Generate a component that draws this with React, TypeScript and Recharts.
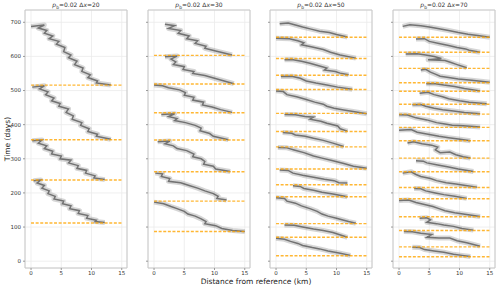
import { LineChart, Line, XAxis, YAxis, CartesianGrid, ReferenceArea } from 'recharts';

// Tick values
const xTicks = [0, 5, 10, 15];
const yTicks = [0, 100, 200, 300, 400, 500, 600, 700];

// Panel spacings (Δx)
const spacings = [20, 30, 50, 70];

// Gray bands: each band is a list of [distance km, time days]
const p1Bands: number[][][] = [
  [[0.0,688],[2.2,692],[1.2,683],[2.6,676],[2.2,668],[3.6,660],[3.0,652],[4.6,644],[4.2,636],[5.6,626],[5.4,614],[6.6,604],[6.2,596],[7.6,586],[7.2,576],[8.6,566],[8.4,556],[9.8,546],[9.4,538],[11.0,528],[10.8,522],[13.2,516]],
  [[0.2,510],[2.2,514],[1.4,505],[2.8,496],[2.4,488],[3.8,478],[3.4,470],[4.8,462],[4.6,454],[6.2,446],[5.8,436],[7.0,426],[6.8,416],[8.4,406],[8.2,398],[9.6,388],[9.4,380],[11.0,372],[10.8,366],[13.2,357]],
  [[0.2,353],[1.8,355],[1.2,346],[2.6,338],[2.2,330],[3.6,322],[3.4,314],[5.0,308],[4.8,300],[6.6,296],[6.2,288],[7.8,280],[7.6,272],[9.2,266],[9.0,258],[10.6,250],[10.4,244],[12.2,239]],
  [[0.4,236],[1.6,238],[1.0,229],[2.2,222],[1.8,214],[3.0,206],[2.8,198],[4.0,190],[3.8,182],[5.4,176],[5.2,168],[6.6,162],[6.4,154],[8.0,148],[7.8,140],[9.4,134],[9.2,126],[10.8,120],[10.6,116],[12.2,113]],
];

const p2Bands: number[][][] = [
  [[1.8,694],[3.4,690],[2.4,682],[4.4,676],[4.0,668],[5.8,660],[5.4,652],[7.2,646],[6.8,638],[8.6,630],[8.4,624],[10.2,616],[12.9,604]],
  [[1.8,599],[3.8,601],[2.8,592],[3.6,584],[3.2,576],[5.0,570],[4.8,562],[6.6,556],[6.4,550],[8.4,544],[10.0,536],[11.6,528],[13.2,520]],
  [[0.0,516],[1.4,514],[2.4,508],[4.2,502],[5.2,494],[5.0,486],[6.6,480],[6.4,472],[8.2,466],[8.0,458],[9.6,452],[11.0,444],[12.9,436]],
  [[1.2,430],[3.4,432],[2.4,424],[3.8,418],[3.4,412],[5.2,406],[6.8,398],[7.8,390],[7.6,382],[9.2,374],[9.8,366],[12.3,356]],
  [[0.6,350],[2.6,352],[1.8,344],[3.2,338],[3.8,330],[5.4,324],[6.6,314],[6.4,306],[7.8,300],[8.4,292],[8.2,284],[9.8,278],[10.2,270],[12.6,263]],
  [[0.2,258],[1.4,256],[1.2,248],[2.6,242],[2.4,234],[4.4,230],[5.8,222],[7.2,214],[8.4,206],[9.8,198],[10.6,190],[10.4,184],[12.0,179]],
  [[0.0,173],[1.6,168],[2.8,160],[3.8,154],[5.0,146],[5.6,138],[6.8,132],[7.8,124],[8.6,116],[8.4,110],[10.2,104],[11.2,96],[13.0,90],[15.0,87]],
];

const p3Bands: number[][][] = [
  [[0.6,696],[2.0,698],[3.2,692],[4.4,686],[5.8,680],[7.2,674],[8.8,670],[10.0,664],[11.8,657]],
  [[0.0,653],[2.2,652],[3.6,646],[4.6,640],[4.2,634],[5.8,628],[7.8,620],[9.0,612],[10.6,604],[13.2,595]],
  [[1.4,590],[2.6,591],[4.2,586],[5.6,580],[7.2,572],[8.4,566],[8.0,560],[9.8,556],[10.6,551],[12.0,546]],
  [[0.8,541],[2.6,542],[4.0,536],[5.0,528],[6.6,522],[8.4,516],[10.2,510],[12.6,504]],
  [[0.0,499],[1.2,497],[1.8,488],[3.4,482],[5.0,474],[6.4,466],[7.8,460],[8.4,454],[9.6,448],[11.2,443],[13.0,438],[15.0,432]],
  [[1.4,430],[3.2,429],[4.8,424],[6.2,422],[5.6,416],[7.4,410],[8.4,404],[10.2,396],[10.6,388],[11.8,381]],
  [[1.1,377],[2.6,375],[3.2,370],[4.8,366],[6.2,360],[7.8,354],[9.4,346],[11.2,336]],
  [[0.3,333],[1.8,332],[3.0,326],[4.6,318],[6.2,308],[7.6,302],[9.4,294],[11.2,286],[12.8,278],[15.0,272]],
  [[0.6,267],[2.0,266],[2.8,258],[4.4,252],[6.2,246],[8.0,240],[9.6,236],[10.4,230],[11.8,229]],
  [[2.8,221],[4.0,219],[4.6,213],[6.2,208],[7.6,202],[9.4,197],[11.8,189]],
  [[0.0,186],[1.4,184],[1.8,176],[3.2,170],[4.2,162],[5.6,154],[6.8,146],[7.6,138],[8.6,132],[10.0,126],[11.2,120],[12.0,116],[13.2,111]],
  [[1.4,106],[3.0,105],[4.4,100],[6.2,94],[7.8,90],[9.4,84],[10.4,78],[11.8,70]],
  [[0.0,67],[1.4,64],[2.4,58],[3.6,52],[4.4,46],[6.0,40],[7.2,36],[8.6,30],[10.4,24],[12.3,17]],
];

const p4Bands: number[][][] = [
  [[0.6,688],[1.8,693],[3.6,690],[5.0,686],[6.4,682],[8.2,676],[9.8,670],[11.4,665],[13.0,661],[15.0,656]],
  [[2.8,651],[4.2,652],[5.0,644],[6.6,638],[8.2,632],[9.6,626],[11.0,622],[11.6,618],[13.4,612]],
  [[1.1,607],[3.0,608],[4.4,604],[5.8,600],[7.0,594],[4.8,590],[7.6,588],[8.6,582],[9.6,576],[11.2,567]],
  [[3.6,560],[4.4,562],[5.2,554],[6.0,548],[6.8,542],[8.2,538],[9.8,534],[12.0,530],[15.0,524]],
  [[4.5,520],[6.0,520],[7.4,516],[9.2,512],[10.8,506],[13.4,499]],
  [[3.4,492],[4.8,495],[5.8,488],[7.2,482],[8.2,476],[10.0,470],[11.6,466],[14.5,461]],
  [[2.2,458],[3.6,459],[4.4,454],[5.8,448],[7.2,444],[9.0,440],[10.8,436],[13.4,432]],
  [[0.0,429],[1.4,428],[2.8,420],[4.6,414],[6.2,406],[7.6,402],[8.8,398],[10.6,397],[13.4,393]],
  [[0.0,384],[2.0,386],[3.0,378],[4.8,372],[6.6,366],[8.2,362],[9.8,358],[11.8,353]],
  [[1.4,346],[2.4,350],[3.8,344],[5.4,340],[6.4,334],[6.0,326],[6.8,318],[8.4,320],[9.4,312],[10.6,306],[11.8,302]],
  [[2.8,294],[4.0,293],[4.6,288],[6.4,282],[8.2,276],[9.8,270],[12.3,263]],
  [[0.6,258],[2.0,262],[2.8,254],[3.6,248],[5.2,242],[6.2,236],[7.8,230],[9.4,226],[11.0,222],[12.9,217]],
  [[2.5,213],[3.6,212],[4.4,206],[6.0,200],[7.4,195],[9.2,190],[11.2,184]],
  [[0.0,178],[1.6,179],[2.8,172],[4.2,166],[5.6,160],[6.6,154],[7.6,148],[9.2,142],[10.6,138],[13.4,131]],
  [[3.4,126],[4.6,127],[5.2,121],[4.6,114],[6.2,110],[7.4,106],[9.0,102],[10.4,96],[12.3,91]],
  [[0.8,87],[2.2,86],[3.6,82],[5.4,78],[4.6,70],[6.6,68],[8.4,68],[9.6,60],[11.2,54],[13.4,44]],
  [[2.2,41],[3.4,40],[4.2,34],[5.8,30],[7.4,26],[9.0,20],[10.4,17],[11.8,14]],
];

// Orange dashed reset times (days)
const p1Resets = [112, 238, 356, 516];
const p2Resets = [87, 176, 262, 355, 435, 519, 603];
const p3Resets = [16, 70, 110, 189, 224, 270, 335, 380, 433, 503, 545, 594, 656];
const p4Resets = [13, 42, 90, 130, 183, 216, 262, 302, 353, 392, 431, 460, 498, 523, 565, 612, 656];

const X_DOMAIN = [-1, 15.87];
const Y_DOMAIN = [-20, 736];
const PLOT_W = 102;
const Y_W = 22;

interface PanelProps {
  left: number;
  dx: number;
  bands: number[][][];
  resets: number[];
  showYLabels: boolean;
}

function Panel({ left, dx, bands, resets, showYLabels }: PanelProps) {
  const tickStyle = { fontSize: 5.5, fill: '#333' };
  return (
    <>
      <div
        style={{
          position: 'absolute',
          left,
          width: PLOT_W,
          top: 1,
          textAlign: 'center',
          fontSize: 6,
          color: '#333',
          lineHeight: '8px',
          whiteSpace: 'nowrap',
        }}
      >
        <i>p</i>
        <span style={{ fontSize: 4.5, position: 'relative', top: 1.5 }}>b</span>=0.02 Δ<i>x</i>={dx}
      </div>
      <div style={{ position: 'absolute', left: left - Y_W, top: 0 }}>
        <LineChart width={Y_W + PLOT_W + 2} height={290} margin={{ top: 10, right: 2, bottom: 8, left: 0 }}>
          <CartesianGrid stroke="#ebebeb" strokeWidth={0.8} />
          <XAxis
            type="number"
            dataKey="x"
            domain={X_DOMAIN}
            ticks={xTicks}
            height={14}
            tickSize={2}
            tickMargin={1}
            axisLine={false}
            tickLine={{ stroke: '#999' }}
            tick={tickStyle}
            allowDataOverflow
          />
          <YAxis
            type="number"
            domain={Y_DOMAIN}
            ticks={yTicks}
            width={Y_W}
            tickSize={2}
            tickMargin={2}
            axisLine={false}
            tickLine={{ stroke: '#999' }}
            tick={tickStyle}
            tickFormatter={(v) => (showYLabels ? String(v) : '')}
            allowDataOverflow
          />
          <ReferenceArea
            x1={X_DOMAIN[0]}
            x2={X_DOMAIN[1]}
            y1={Y_DOMAIN[0]}
            y2={Y_DOMAIN[1]}
            fill="none"
            stroke="#c8c8c8"
            strokeWidth={1}
          />
          {/* soft spread around each band */}
          {bands.map((b, i) => (
            <Line
              key={`h${i}`}
              data={b.map(([x, t]) => ({ x, t }))}
              dataKey="t"
              type="linear"
              stroke="#8a8a8a"
              strokeOpacity={0.35}
              strokeWidth={5}
              strokeLinejoin="round"
              dot={false}
              activeDot={false}
              isAnimationActive={false}
            />
          ))}
          {bands.map((b, i) => (
            <Line
              key={`c${i}`}
              data={b.map(([x, t]) => ({ x, t }))}
              dataKey="t"
              type="linear"
              stroke="#505050"
              strokeOpacity={0.75}
              strokeWidth={1.5}
              dot={false}
              activeDot={false}
              isAnimationActive={false}
            />
          ))}
          {resets.map((t, i) => (
            <Line
              key={`r${i}`}
              data={[{ x: 0, t }, { x: 15, t }]}
              dataKey="t"
              type="linear"
              stroke="#ffa500"
              strokeOpacity={0.8}
              strokeWidth={1.4}
              strokeDasharray="3 1.6"
              dot={false}
              activeDot={false}
              isAnimationActive={false}
            />
          ))}
        </LineChart>
      </div>
    </>
  );
}

export default function App() {
  return (
    <div
      style={{
        position: 'absolute',
        left: 0,
        top: 0,
        width: 500,
        height: 290,
        background: '#fff',
        fontFamily: '"DejaVu Sans", sans-serif',
        overflow: 'hidden',
      }}
    >
      <Panel left={25} dx={spacings[0]} bands={p1Bands} resets={p1Resets} showYLabels />
      <Panel left={148} dx={spacings[1]} bands={p2Bands} resets={p2Resets} showYLabels={false} />
      <Panel left={270} dx={spacings[2]} bands={p3Bands} resets={p3Resets} showYLabels={false} />
      <Panel left={393} dx={spacings[3]} bands={p4Bands} resets={p4Resets} showYLabels={false} />
      <div
        style={{
          position: 'absolute',
          left: 0,
          width: 512,
          top: 277,
          textAlign: 'center',
          fontSize: 7.5,
          color: '#222',
          lineHeight: '10px',
        }}
      >
        Distance from reference (km)
      </div>
      <div
        style={{
          position: 'absolute',
          left: 8,
          top: 139,
          transform: 'translate(-50%, -50%) rotate(-90deg)',
          fontSize: 7.5,
          color: '#222',
          whiteSpace: 'nowrap',
          lineHeight: '10px',
        }}
      >
        Time (days)
      </div>
    </div>
  );
}
